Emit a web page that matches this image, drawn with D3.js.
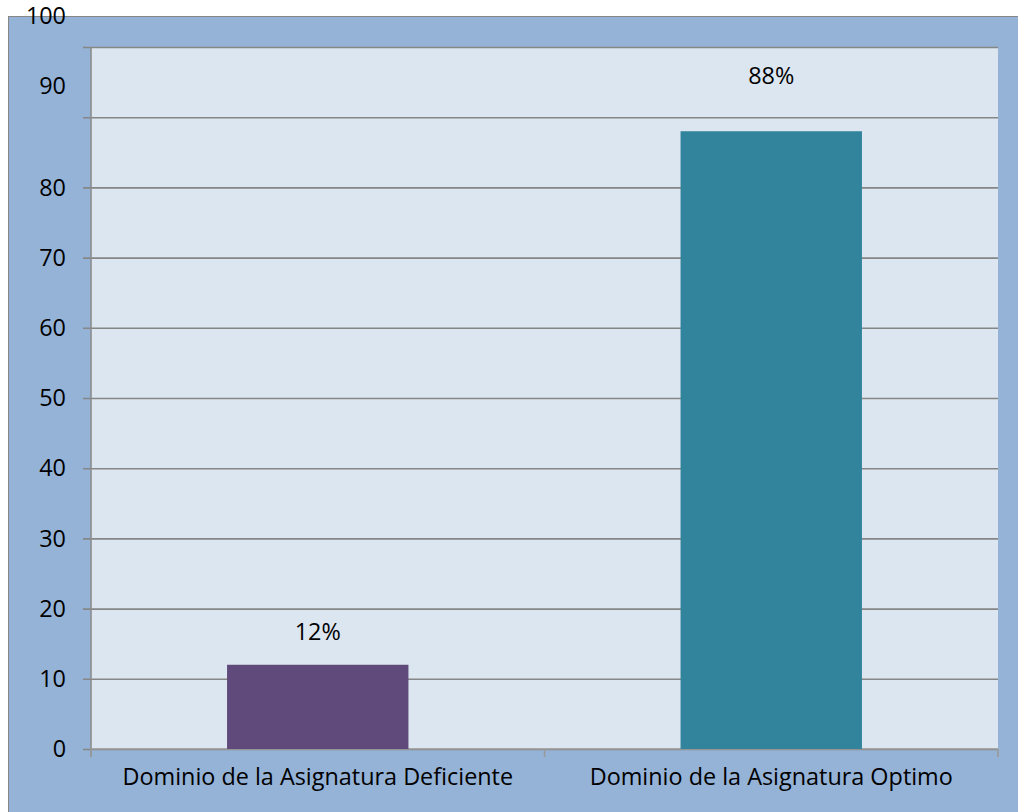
<!DOCTYPE html>
<html><head><meta charset="utf-8">
<script src="https://cdn.jsdelivr.net/npm/d3@7"></script>
<style>body{margin:0;background:#fff}svg{display:block}text{font-family:"Open Sans",sans-serif}</style>
</head><body>
<svg id="c" width="1018" height="812"></svg>
<script>
const categories = ["Dominio de la Asignatura Deficiente", "Dominio de la Asignatura Optimo"];
const values = [12, 88];
const valueLabels = ["12%", "88%"];
const barColors = ["#604A7B", "#31849B"];
const yTicks = [0,10,20,30,40,50,60,70,80,90,100];

const svg = d3.select("#c");
const W = 1018, H = 812;
const L = 91, R = 998, T = 47, B = 749;
const fs = 23.4;
const ff = "'Open Sans', sans-serif";

svg.append("rect").attr("x",8.5).attr("y",16.5).attr("width",W).attr("height",H)
  .attr("fill","#95B3D7").attr("stroke","#878787").attr("stroke-width",1);
svg.append("rect").attr("x",L).attr("y",T).attr("width",R-L).attr("height",B-T).attr("fill","#DCE6F1");

const y = d3.scaleLinear().domain([0,100]).range([B,T]);
const x = d3.scaleBand().domain(categories).range([L,R]).padding(0);

// gridlines
const grid = svg.append("g").attr("transform",`translate(${R},0)`)
  .call(d3.axisLeft(y).tickValues(yTicks).tickSize(R-L+8).tickFormat(""));
grid.select(".domain").remove();
grid.selectAll("line").attr("stroke","#868686").attr("stroke-width",1.6);

// y axis
const ya = svg.append("g").attr("transform",`translate(${L},0)`)
  .call(d3.axisLeft(y).tickValues(yTicks).tickSize(0).tickPadding(25));
ya.select(".domain").remove();
ya.selectAll("text").attr("font-size",fs).attr("fill","#000").attr("font-family",ff)
  .attr("dy", d => d >= 90 ? "-1.0em" : "0.33em");
svg.append("line").attr("x1",L).attr("x2",L).attr("y1",T).attr("y2",B+8).attr("stroke","#8C8C8C").attr("stroke-width",1.6);

// x axis
svg.append("line").attr("x1",L).attr("x2",R).attr("y1",B).attr("y2",B).attr("stroke","#999").attr("stroke-width",1.6);
const xa = svg.append("g").attr("transform",`translate(0,${B})`)
  .call(d3.axisBottom(x).tickSize(0).tickPadding(19));
xa.select(".domain").remove();
xa.selectAll("text").attr("font-size",fs).attr("fill","#000").attr("font-family",ff);
const bnds = [L, L + x.step(), R];
svg.selectAll(".xt").data(bnds).enter().append("line")
  .attr("x1",d=>d).attr("x2",d=>d).attr("y1",B).attr("y2",B+8).attr("stroke","#999").attr("stroke-width",1.6);

// bars
const bw = x.bandwidth()*0.4;
svg.selectAll(".bar").data(values).enter().append("rect")
  .attr("x",(d,i)=>x(categories[i]) + x.bandwidth()/2 - bw/2)
  .attr("y",d=>y(d)).attr("width",bw).attr("height",d=>B-y(d))
  .attr("fill",(d,i)=>barColors[i]);

svg.selectAll(".lbl").data(values).enter().append("text")
  .attr("x",(d,i)=>x(categories[i]) + x.bandwidth()/2)
  .attr("y",d=>y(d) - (d > 80 ? 55 : 32)).attr("dy","0.33em").attr("text-anchor","middle")
  .attr("font-size",fs).attr("font-family",ff).attr("fill","#000")
  .text((d,i)=>valueLabels[i]);
</script>
</body></html>
